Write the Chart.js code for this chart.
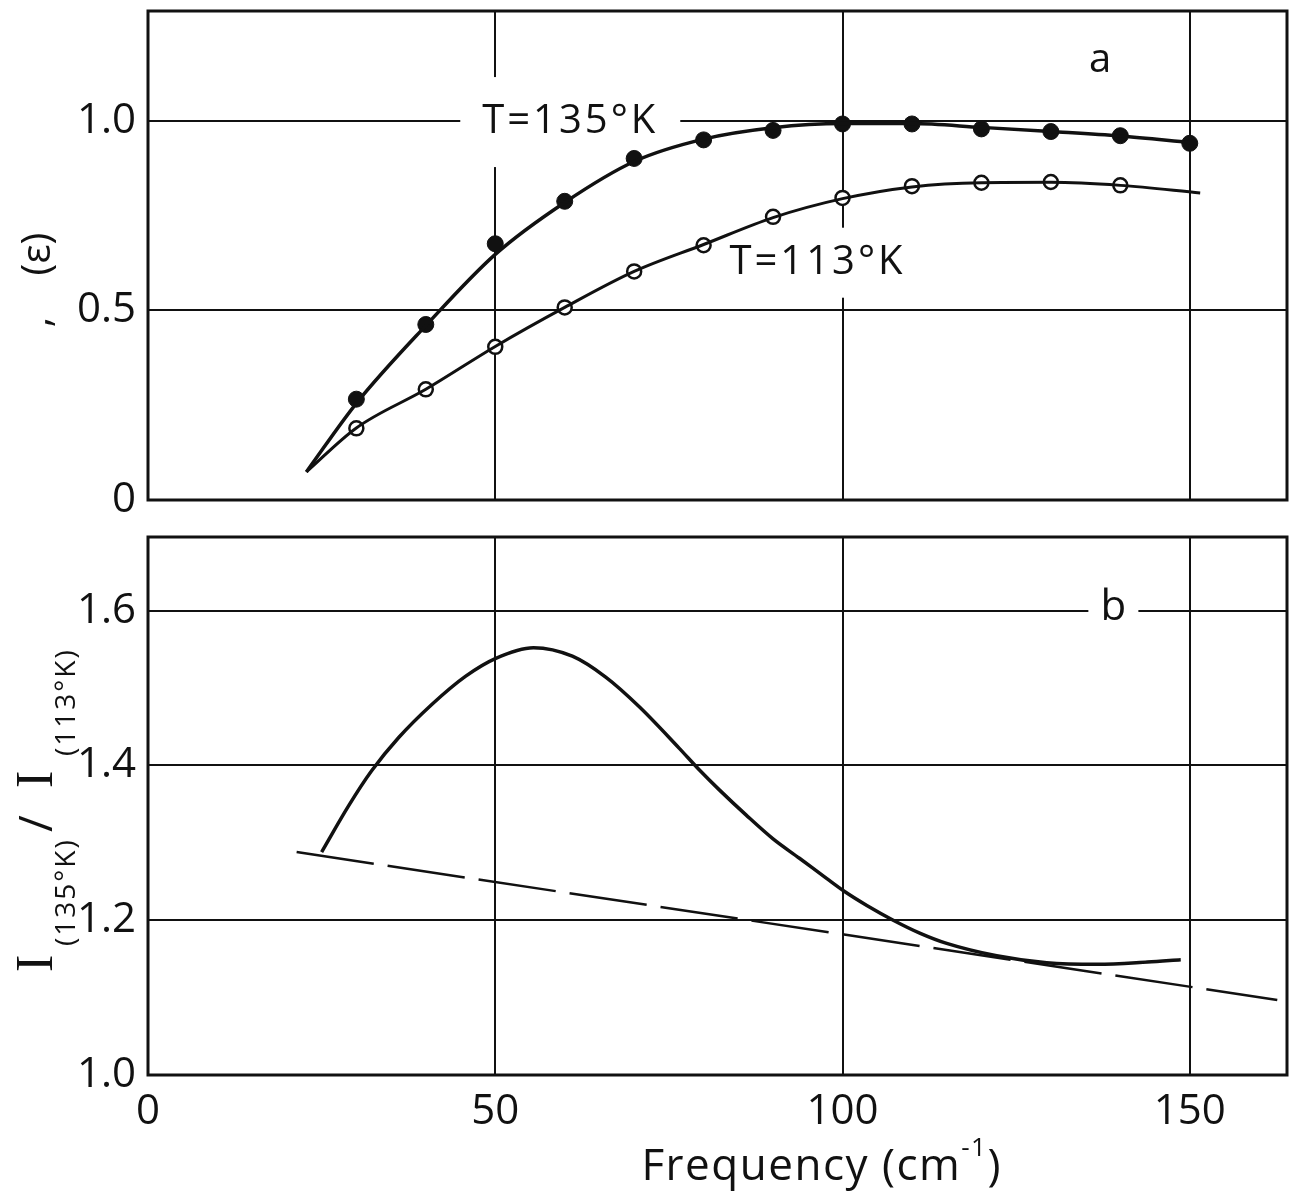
<!DOCTYPE html>
<html>
<head>
<meta charset="utf-8">
<script src="https://cdn.jsdelivr.net/npm/chart.js@4/dist/chart.umd.min.js"></script>
<style>
  body { margin: 0; background: #fff; }
  #wrap { position: relative; width: 1300px; height: 1198px; }
  .panel { position: absolute; left: 0; width: 1300px; }
  #top { top: 0; height: 530px; }
  #bot { top: 520px; height: 678px; }
</style>
</head>
<body>
<div id="wrap">
  <div class="panel" id="top"><canvas id="chartA" width="1300" height="530"></canvas></div>
  <div class="panel" id="bot"><canvas id="chartB" width="1300" height="678"></canvas></div>
</div>
<script>
// ---- panel a: measured points ----
const freq135 = [30, 40, 50, 60, 70, 80, 90, 100, 110, 120, 130, 140, 150];
const eps135 = [0.266, 0.463, 0.676, 0.788, 0.901, 0.95, 0.975, 0.992, 0.992, 0.979, 0.972, 0.961, 0.941];
const freq113 = [30, 40, 50, 60, 70, 80, 90, 100, 110, 120, 130, 140];
const eps113 = [0.189, 0.292, 0.404, 0.508, 0.603, 0.672, 0.747, 0.797, 0.828, 0.837, 0.839, 0.83];

// ---- panel a: drawn curves ----
const fit135X = [22.8, 30, 40, 50, 60, 70, 80, 90, 100, 110, 120, 130, 140, 150];
const fit135Y = [0.074, 0.255, 0.46, 0.648, 0.785, 0.893, 0.952, 0.982, 0.993, 0.993, 0.983, 0.972, 0.96, 0.943];
const fit113X = [22.8, 30, 40, 50, 60, 70, 80, 90, 100, 110, 120, 130, 140, 151.5];
const fit113Y = [0.074, 0.19, 0.292, 0.405, 0.508, 0.603, 0.674, 0.745, 0.795, 0.826, 0.837, 0.838, 0.83, 0.81];

// ---- panel b: intensity ratio and dashed baseline ----
const ratioX = [25.0, 28.9, 32.2, 36.1, 40.9, 45.7, 50.0, 55.5, 61.1, 65.9, 70.7, 76.5, 79.4, 82.3, 86.1,
                90.0, 93.8, 97.7, 100.3, 103.5, 107.3, 111.2, 115.0, 122.2, 129.4, 136.7, 143.9, 148.7];
const ratioY = [1.288, 1.348, 1.393, 1.436, 1.479, 1.515, 1.538, 1.552, 1.541, 1.514, 1.476, 1.422, 1.394, 1.368, 1.336,
                1.305, 1.28, 1.254, 1.237, 1.219, 1.2, 1.183, 1.17, 1.154, 1.145, 1.143, 1.146, 1.149];
const baseX = [21.4, 162.6];
const baseY = [1.288, 1.097];

// ---- axes ----
const xTicks = [0, 50, 100, 150];
const yTicksA = [0, 0.5, 1.0];
const yTicksB = [1.0, 1.2, 1.4, 1.6];

const INK = '#111';
const FONT = '"Open Sans", "DejaVu Sans", sans-serif';
const SERIF = '"Liberation Serif", serif';

function pairs(xs, ys) {
  return xs.map((v, i) => ({ x: v, y: ys[i] }));
}

// frame and in-plot labels (white box cuts the grid behind the text)
const panelText = {
  id: 'panelText',
  beforeDatasetsDraw(chart, args, opts) {
    const ctx = chart.ctx;
    const a = chart.chartArea;
    const sx = chart.scales.x, sy = chart.scales.y;
    ctx.save();
    ctx.strokeStyle = INK;
    ctx.lineWidth = 3;
    ctx.strokeRect(a.left, a.top, a.right - a.left, a.bottom - a.top);
    (opts.labels || []).forEach(l => {
      const cx = sx.getPixelForValue(l.x);
      const cy = sy.getPixelForValue(l.y);
      if (l.w) {
        ctx.fillStyle = '#fff';
        ctx.fillRect(cx - l.w / 2, cy - l.h / 2, l.w, l.h);
      }
      ctx.fillStyle = INK;
      ctx.font = l.size + 'px ' + FONT;
      ctx.letterSpacing = (l.spacing || 0) + 'px';
      ctx.textAlign = 'center';
      ctx.textBaseline = 'middle';
      ctx.fillText(l.text, cx, cy);
    });
    ctx.restore();
  },
  afterDraw(chart, args, opts) {
    if (opts.extra) opts.extra(chart);
  }
};

function noPad(s) {
  s.paddingTop = 0; s.paddingBottom = 0; s.paddingLeft = 0; s.paddingRight = 0;
}

function xScale(showLabels) {
  return {
    type: 'linear', min: 0, max: 164,
    afterBuildTicks: s => { s.ticks = xTicks.map(v => ({ value: v })); },
    afterFit: s => { s.height = showLabels ? 123 : 0; noPad(s); },
    grid: { color: INK, lineWidth: 2, drawTicks: false },
    border: { display: false },
    ticks: { display: showLabels, color: INK, padding: 12, font: { family: FONT, size: 42 } }
  };
}

function yScale(min, max, ticks, fmt) {
  return {
    type: 'linear', min: min, max: max,
    afterBuildTicks: s => { s.ticks = ticks.map(v => ({ value: v })); },
    afterFit: s => { s.width = 148; noPad(s); },
    grid: { color: INK, lineWidth: 2, drawTicks: false },
    border: { display: false },
    ticks: { color: INK, padding: 12, font: { family: FONT, size: 42 }, callback: fmt }
  };
}

// panel a
new Chart(document.getElementById('chartA'), {
  type: 'line',
  data: {
    datasets: [
      { data: pairs(fit135X, fit135Y), borderColor: INK, borderWidth: 3.5,
        pointRadius: 0, cubicInterpolationMode: 'monotone' },
      { data: pairs(fit113X, fit113Y), borderColor: INK, borderWidth: 3,
        pointRadius: 0, cubicInterpolationMode: 'monotone' },
      { data: pairs(freq135, eps135), showLine: false, pointRadius: 8, pointBackgroundColor: INK,
        pointBorderColor: INK, pointBorderWidth: 1 },
      { data: pairs(freq113, eps113), showLine: false, pointRadius: 7, pointBackgroundColor: '#fff',
        pointBorderColor: INK, pointBorderWidth: 2.5 }
    ]
  },
  options: {
    responsive: false,
    animation: false,
    layout: { padding: { left: 0, right: 13, top: 11, bottom: 30 } },
    scales: {
      x: xScale(false),
      y: yScale(0, 1.29, yTicksA, v => v === 0 ? '0' : v.toFixed(1))
    },
    plugins: {
      legend: { display: false },
      tooltip: { enabled: false },
      panelText: {
        labels: [
          { text: 'T=135°K', x: 60.8, y: 0.997, size: 40, spacing: 3, w: 220, h: 90 },
          { text: 'T=113°K', x: 96.4, y: 0.626, size: 40, spacing: 3, w: 175, h: 70 },
          { text: 'a', x: 137.1, y: 1.16, size: 40 }
        ],
        extra: chart => {
          const ctx = chart.ctx;
          ctx.save();
          ctx.translate(50, 280);
          ctx.rotate(-Math.PI / 2);
          ctx.fillStyle = INK;
          ctx.font = '40px ' + FONT;
          ctx.textAlign = 'center';
          ctx.textBaseline = 'alphabetic';
          ctx.fillText(',    (ε)', 0, 0);
          ctx.restore();
        }
      }
    }
  },
  plugins: [panelText]
});

// panel b
new Chart(document.getElementById('chartB'), {
  type: 'line',
  data: {
    datasets: [
      { data: pairs(ratioX, ratioY), borderColor: INK, borderWidth: 3.5,
        pointRadius: 0, cubicInterpolationMode: 'monotone' },
      { data: pairs(baseX, baseY), borderColor: INK, borderWidth: 2.5,
        borderDash: [78, 14], pointRadius: 0 }
    ]
  },
  options: {
    responsive: false,
    animation: false,
    layout: { padding: { left: 0, right: 13, top: 17, bottom: 0 } },
    scales: {
      x: xScale(true),
      y: yScale(1.0, 1.695, yTicksB, v => v.toFixed(1))
    },
    plugins: {
      legend: { display: false },
      tooltip: { enabled: false },
      panelText: {
        labels: [
          { text: 'b', x: 139.0, y: 1.603, size: 42, w: 50, h: 50 }
        ],
        extra: chart => {
          const ctx = chart.ctx;
          const sx = chart.scales.x;
          ctx.save();
          ctx.fillStyle = INK;
          ctx.textBaseline = 'alphabetic';
          ctx.textAlign = 'left';
          ctx.letterSpacing = '1.5px';

          // x axis title with superscript
          const cx = sx.getPixelForValue(97);
          const t1 = 'Frequency (cm', sup = '-1', t2 = ')';
          ctx.font = '26px ' + FONT;
          const wSup = ctx.measureText(sup).width;
          ctx.font = '44px ' + FONT;
          const w1 = ctx.measureText(t1).width, w2 = ctx.measureText(t2).width;
          let px = cx - (w1 + wSup + w2) / 2;
          ctx.fillText(t1, px, 660); px += w1;
          ctx.font = '26px ' + FONT;
          ctx.fillText(sup, px, 636); px += wSup;
          ctx.font = '44px ' + FONT;
          ctx.fillText(t2, px, 660);

          // y axis title I(135°K)/I(113°K), rotated, with subscripts
          const top = 520; // page offset of this canvas
          const parts = [
            { t: 'I', f: '52px ' + SERIF, at: 972, v: 0, ls: 0 },
            { t: '(135°K)', f: '28px ' + FONT, at: 946, v: 23, ls: 2 },
            { t: '/', f: '46px ' + FONT, at: 832, v: 0, ls: 0 },
            { t: 'I', f: '52px ' + SERIF, at: 788, v: 0, ls: 0 },
            { t: '(113°K)', f: '28px ' + FONT, at: 756, v: 23, ls: 2 }
          ];
          ctx.translate(52, 0);
          ctx.rotate(-Math.PI / 2);
          parts.forEach(p => {
            ctx.font = p.f;
            ctx.letterSpacing = p.ls + 'px';
            ctx.fillText(p.t, -(p.at - top), p.v);
          });
          ctx.restore();
        }
      }
    }
  },
  plugins: [panelText]
});
</script>
</body>
</html>
